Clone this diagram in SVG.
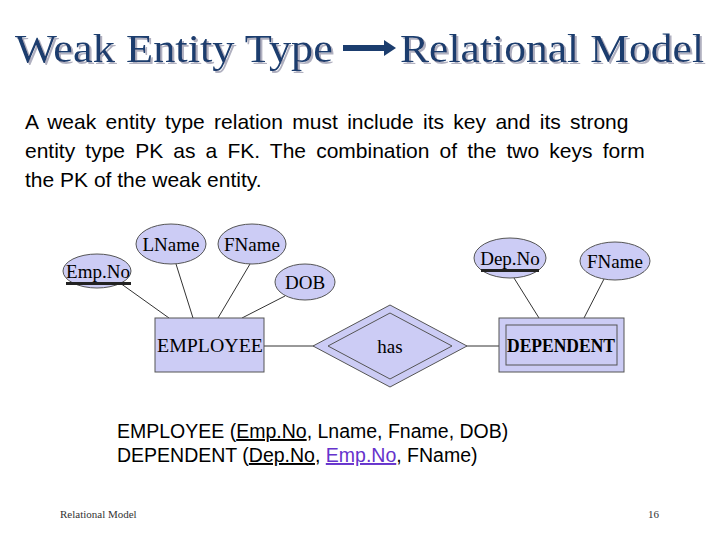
<svg xmlns="http://www.w3.org/2000/svg" width="720" height="540" viewBox="0 0 720 540">
<defs><filter id="ds" x="-5%" y="-20%" width="110%" height="140%"><feDropShadow dx="2" dy="2" stdDeviation="0.5" flood-color="#b0b0c0"/></filter></defs>
<style>
.t{font-family:"Liberation Serif",serif;fill:#1b3d6e;font-size:40px;filter:url(#ds)}
.p{font-family:"Liberation Sans",sans-serif;font-size:21px;fill:#000}
.r{font-family:"Liberation Sans",sans-serif;font-size:19.5px;fill:#000}
.a{fill:#ccccf5;stroke:#555;stroke-width:1}
.l{font-family:"Liberation Serif",serif;font-size:19px;fill:#000;text-anchor:middle}
.c line{stroke:#333;stroke-width:1}
.f{font-family:"Liberation Serif",serif;font-size:11px;fill:#333}
</style>
<rect width="720" height="540" fill="#fff"/>
<text class="t" x="15" y="62" textLength="318" lengthAdjust="spacingAndGlyphs">Weak Entity Type</text>
<path d="M343 45 H384 V40 L396 48 L384 56 V51 H343 Z" fill="#1b3d6e"/>
<text class="t" x="400" y="62" textLength="304" lengthAdjust="spacingAndGlyphs">Relational Model</text>
<text class="p" x="25" y="129" word-spacing="3.5">A weak entity type relation must include its key and its strong</text>
<text class="p" x="25" y="158" word-spacing="4.3">entity type PK as a FK. The combination of the two keys form</text>
<text class="p" x="25" y="187">the PK of the weak entity.</text>
<g class="c" id="connectors">
<line x1="120" y1="283" x2="169" y2="318"/>
<line x1="176" y1="264" x2="193" y2="318"/>
<line x1="250" y1="264" x2="218" y2="318"/>
<line x1="285" y1="296" x2="242" y2="318"/>
<line x1="264" y1="346" x2="316" y2="346"/>
<line x1="466" y1="346" x2="499" y2="346"/>
<line x1="514" y1="278" x2="539" y2="318"/>
<line x1="604" y1="279" x2="584" y2="318"/>
</g>
<g id="empno"><ellipse class="a" cx="97" cy="271" rx="34" ry="17"/><text class="l" x="98" y="278">Emp.No</text><rect x="66" y="282" width="65" height="3" fill="#222"/></g>
<g id="lname"><ellipse class="a" cx="171" cy="244" rx="35" ry="20"/><text class="l" x="171" y="251">LName</text></g>
<g id="fname"><ellipse class="a" cx="252" cy="244" rx="34" ry="20"/><text class="l" x="252" y="251">FName</text></g>
<g id="dob"><ellipse class="a" cx="305" cy="282" rx="30" ry="18"/><text class="l" x="305" y="289">DOB</text></g>
<g id="employee"><rect class="a" x="155" y="318" width="109" height="54"/><text class="l" x="210" y="352" textLength="106" lengthAdjust="spacingAndGlyphs">EMPLOYEE</text></g>
<g id="has"><polygon class="a" points="390,305 467,346 390,387 313,346"/><polygon points="390,313 452,346 390,379 328,346" fill="none" stroke="#555"/><text class="l" x="390" y="353" font-size="22">has</text></g>
<g id="dependent"><rect class="a" x="499" y="318" width="125" height="54"/><rect x="506" y="325" width="111" height="40" fill="none" stroke="#555"/><text class="l" x="561" y="352" font-weight="bold" font-size="16" textLength="108" lengthAdjust="spacingAndGlyphs">DEPENDENT</text></g>
<g id="depno"><ellipse class="a" cx="510" cy="258" rx="36" ry="20"/><text class="l" x="510" y="265">Dep.No</text><rect x="481" y="269" width="58" height="3" fill="#222"/></g>
<g id="fname2"><ellipse class="a" cx="615" cy="261" rx="35" ry="19"/><text class="l" x="615" y="268">FName</text></g>
<text class="r" x="117" y="438">EMPLOYEE (<tspan text-decoration="underline">Emp.No</tspan>, Lname, Fname, DOB)</text>
<text class="r" x="117" y="462">DEPENDENT (<tspan text-decoration="underline">Dep.No</tspan>, <tspan fill="#6633cc" text-decoration="underline">Emp.No</tspan>, FName)</text>
<text class="f" x="60" y="518">Relational Model</text>
<text class="f" x="648" y="518">16</text>
</svg>
